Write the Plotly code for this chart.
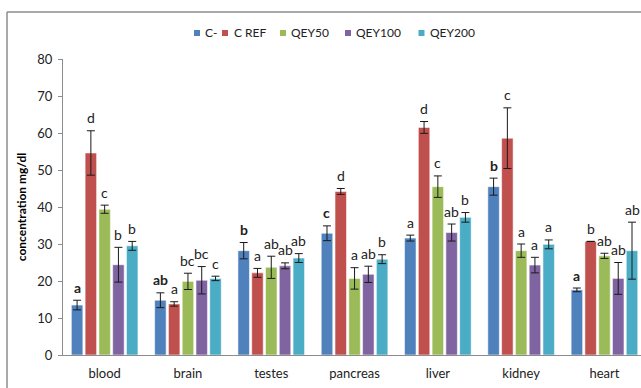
import plotly.graph_objects as go

# Organ concentrations (mg/dl) per treatment group, with SD and significance letters
categories = ["blood", "brain", "testes", "pancreas", "liver", "kidney", "heart"]
series_names = ["C-", "C REF", "QEY50", "QEY100", "QEY200"]

c_minus = [13.5, 14.8, 28.2, 32.9, 31.6, 45.5, 17.6]
c_minus_err = [1.3, 2.0, 2.2, 2.0, 0.8, 2.3, 0.5]
c_ref = [54.6, 13.8, 22.2, 44.2, 61.5, 58.6, 30.7]
c_ref_err = [6.0, 0.6, 1.2, 0.8, 1.6, 8.2, 0.0]
qey50 = [39.4, 19.9, 23.7, 20.7, 45.5, 28.2, 26.8]
qey50_err = [1.1, 2.2, 3.0, 2.9, 2.9, 1.8, 0.7]
qey100 = [24.4, 20.2, 24.1, 21.8, 33.1, 24.3, 20.7]
qey100_err = [4.7, 3.7, 0.8, 2.2, 2.3, 2.1, 4.3]
qey200 = [29.5, 20.7, 26.2, 25.9, 37.2, 29.9, 28.2]
qey200_err = [1.2, 0.6, 1.2, 1.2, 1.3, 1.2, 7.7]

c_minus_letters = ["a", "ab", "b", "c", "a", "b", "a"]
c_ref_letters = ["d", "a", "a", "d", "d", "c", "b"]
qey50_letters = ["c", "bc", "ab", "a", "c", "a", "ab"]
qey100_letters = ["b", "bc", "ab", "ab", "ab", "a", "ab"]
qey200_letters = ["b", "c", "ab", "b", "b", "a", "ab"]

values = [c_minus, c_ref, qey50, qey100, qey200]
errors = [c_minus_err, c_ref_err, qey50_err, qey100_err, qey200_err]
letters = [c_minus_letters, c_ref_letters, qey50_letters, qey100_letters, qey200_letters]
colors = ["#4F81BD", "#C0504D", "#9BBB59", "#8064A2", "#4BACC6"]

W, H = 641, 388
L, R, T, B = 63, 0, 59, 33
PW, PH = W - L - R, H - T - B
BARGAP, GROUPGAP = 0.173, 0.165
FONT = "Lato, Carlito, Calibri, Arial, sans-serif"


def px_x(px):
    return (px - L) / PW


def px_y(py):
    return (H - B - py) / PH


fig = go.Figure()
for name, vals, errs, col in zip(series_names, values, errors, colors):
    fig.add_trace(go.Bar(
        x=categories, y=vals, name=name,
        marker=dict(color=col, line=dict(color="rgba(255,255,255,0.55)", width=1)),
        error_y=dict(type="data", array=errs, visible=True, color="#1a1a1a",
                     thickness=1, width=4),
        showlegend=False,
    ))

# significance letters above each bar
n = len(series_names)
slot = (1 - BARGAP) / n
annotations = []
for s in range(n):
    for i, cat in enumerate(categories):
        xc = i - (1 - BARGAP) / 2 + slot * (s + 0.5)
        txt = letters[s][i]
        if s == 0 and cat != "liver":
            txt = "<b>" + txt + "</b>"
        annotations.append(dict(
            x=xc, y=values[s][i] + errors[s][i], xref="x", yref="y",
            text=txt, showarrow=False, yanchor="middle", xanchor="center",
            yshift=13, font=dict(family=FONT, size=14, color="#222"),
        ))

# legend row
legend_marks = [(197, 203), (225, 232), (283, 289), (348, 354), (421.5, 428)]
shapes = []
for (mx, tx), name, col in zip(legend_marks, series_names, colors):
    shapes.append(dict(type="rect", xref="paper", yref="paper",
                       x0=px_x(mx - 3), x1=px_x(mx + 3),
                       y0=px_y(36), y1=px_y(30),
                       fillcolor=col, line=dict(width=0)))
    annotations.append(dict(x=px_x(tx), y=px_y(33), xref="paper", yref="paper",
                            text=name, showarrow=False, xanchor="left",
                            yanchor="middle",
                            font=dict(family=FONT, size=12, color="#222")))

# chart frame (top and left edges)
shapes.append(dict(type="line", xref="paper", yref="paper",
                   x0=px_x(7), x1=px_x(W + 5), y0=px_y(12), y1=px_y(12),
                   line=dict(color="#8c8c8c", width=1.5)))
shapes.append(dict(type="line", xref="paper", yref="paper",
                   x0=px_x(7), x1=px_x(7), y0=px_y(12), y1=px_y(H + 5),
                   line=dict(color="#8c8c8c", width=1.5)))

fig.update_layout(
    width=W, height=H,
    margin=dict(l=L, r=R, t=T, b=B, pad=0),
    paper_bgcolor="white", plot_bgcolor="white",
    barmode="group", bargap=BARGAP, bargroupgap=GROUPGAP,
    font=dict(family=FONT, size=13, color="#222"),
    annotations=annotations, shapes=shapes,
    xaxis=dict(
        range=[-0.5, -0.5 + PW / 83.3], showline=True, linecolor="#8c8c8c",
        linewidth=1, ticks="", showgrid=False, zeroline=False,
        ticklabelstandoff=6,
        tickfont=dict(family=FONT, size=13, color="#222"),
    ),
    yaxis=dict(
        range=[0, 80], dtick=10, showline=True, linecolor="#8c8c8c",
        linewidth=1, ticks="outside", ticklen=4, tickcolor="#8c8c8c",
        showgrid=False, zeroline=False, ticklabelstandoff=3,
        tickfont=dict(family=FONT, size=13, color="#222"),
        title=dict(text="<b>concentration mg/dl</b>", standoff=8,
                   font=dict(family=FONT, size=12, color="#000")),
    ),
)

fig.write_html("out.html")
